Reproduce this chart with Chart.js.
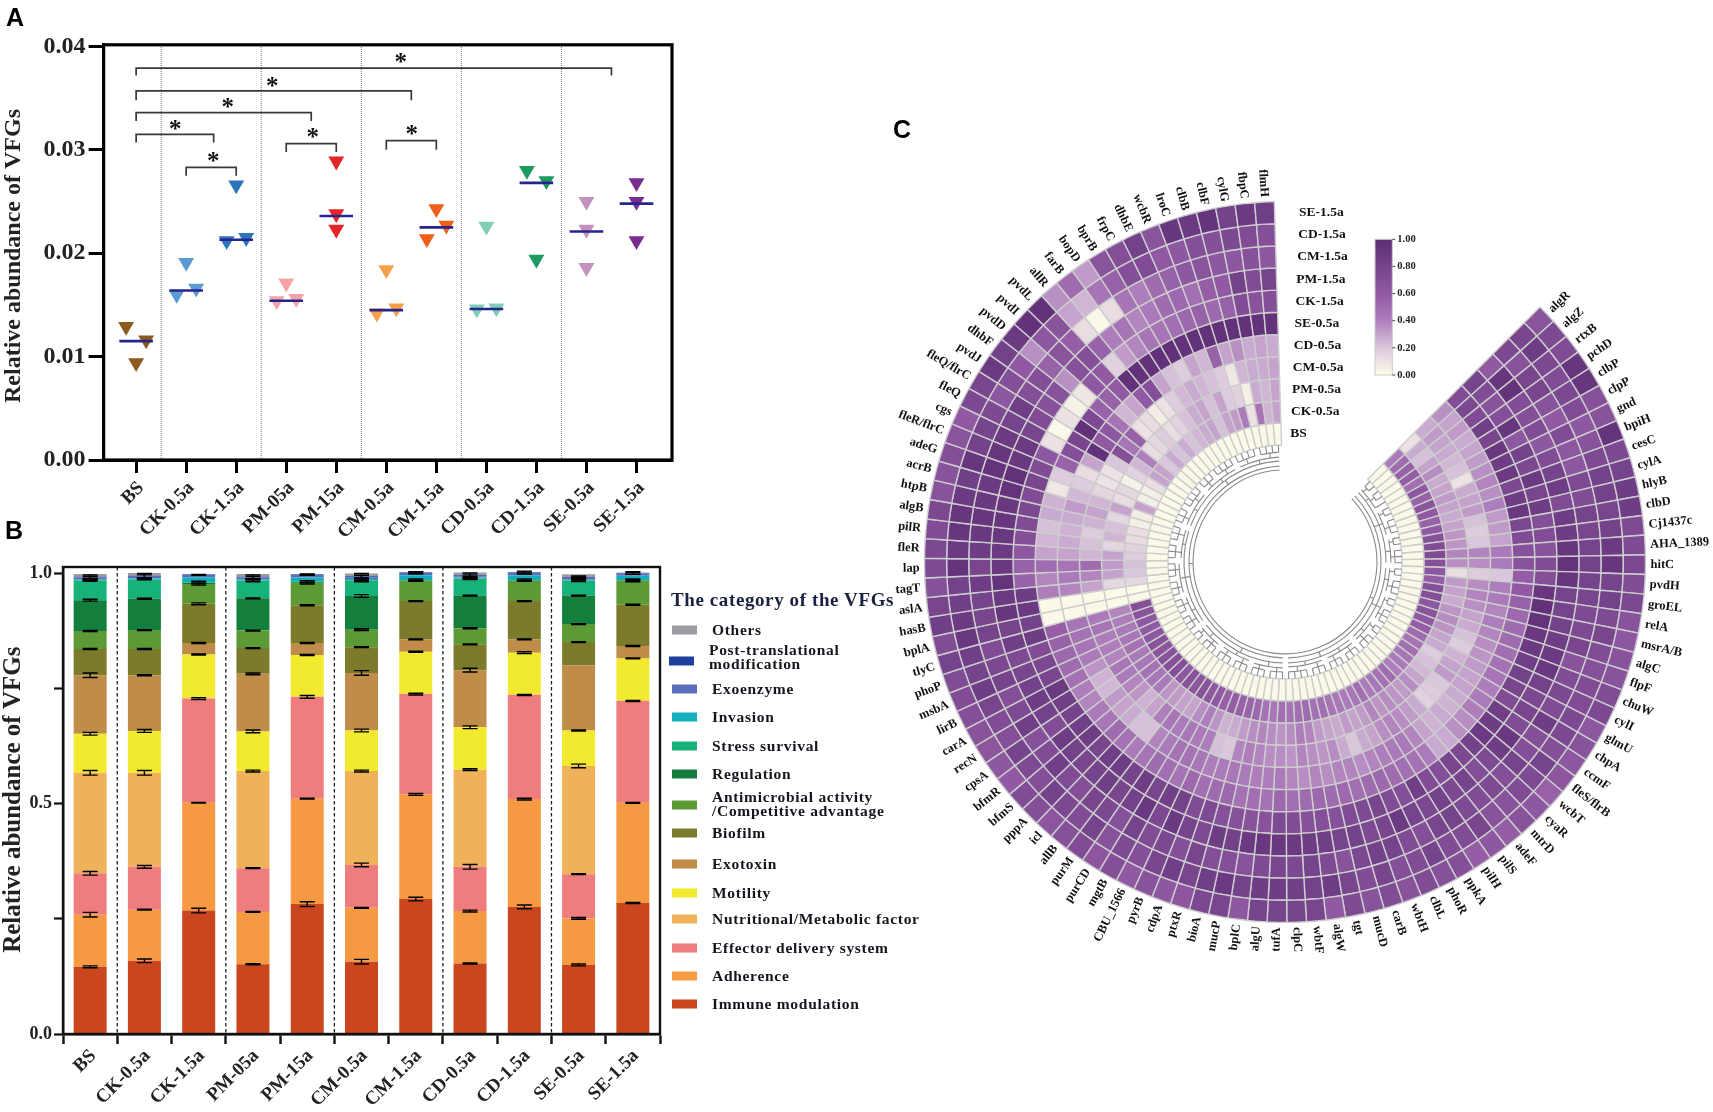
<!DOCTYPE html>
<html>
<head>
<meta charset="utf-8">
<title>VFGs</title>
<script src="https://cdn.jsdelivr.net/npm/chart.js@4"></script>
<style>
  html, body { margin: 0; padding: 0; background: #fff; }
  body { position: relative; width: 1713px; height: 1112px; overflow: hidden; }
  canvas { position: absolute; }
  .panel { position: absolute; font: bold 25px "Liberation Sans", sans-serif; color: #000; transform: translateY(-50%); }
  .lg-title { position: absolute; left: 671px; top: 600px; transform: translateY(-50%); font: bold 19px "Liberation Serif", serif; letter-spacing: .6px; color: #1b2140; white-space: nowrap; }
  .lg-swatch { position: absolute; width: 25px; height: 9px; transform: translateY(-50%); }
  .lg-text { position: absolute; transform: translateY(-50%); font: bold 15.5px/14.6px "Liberation Serif", serif; letter-spacing: .7px; color: #15151f; white-space: pre; }
</style>
</head>
<body>
<canvas id="chartA" width="700" height="545" style="left:0;top:0"></canvas>
<canvas id="chartB" width="670" height="567" style="left:0;top:545px"></canvas>
<canvas id="chartC" width="856" height="864" style="left:857px;top:130px"></canvas>
<div class="panel" style="left:6px;top:17px">A</div>
<div class="panel" style="left:5px;top:530px">B</div>
<div class="panel" style="left:893px;top:129px">C</div>
<div class="lg-title">The category of the VFGs</div>
<div id="legend"></div>
<script>
const SERIF = '"Liberation Serif", serif';

// panel A
const groupsA = ['BS', 'CK-0.5a', 'CK-1.5a', 'PM-05a', 'PM-15a', 'CM-0.5a', 'CM-1.5a', 'CD-0.5a', 'CD-1.5a', 'SE-0.5a', 'SE-1.5a'];
const replicates = [
  [0.0129, 0.0116, 0.0094], [0.0191, 0.0160, 0.0166], [0.0266, 0.0212, 0.0215],
  [0.0171, 0.0154, 0.0156], [0.0289, 0.0238, 0.0223], [0.0184, 0.0142, 0.0147],
  [0.0243, 0.0214, 0.0227], [0.0226, 0.0146, 0.0147], [0.0280, 0.0270, 0.0194],
  [0.0250, 0.0223, 0.0186], [0.0268, 0.0250, 0.0212]
];
const jitter = [
  [-0.2, 0.2, 0], [0, -0.19, 0.2], [0, -0.19, 0.2], [0, -0.19, 0.2], [0, 0, 0], [0, -0.19, 0.2],
  [0, -0.19, 0.2], [0, -0.19, 0.2], [-0.19, 0.2, 0], [0, 0, 0], [0, 0, 0]
];
const means = [0.0115, 0.0164, 0.0213, 0.0154, 0.0236, 0.0145, 0.0225, 0.0146, 0.0268, 0.0221, 0.0248];
const dotColors = ['#8c5a1e', '#5b9bd5', '#2a75bb', '#f4a3a8', '#e3262a', '#f6a04a', '#ef5f1a', '#7fcdb5', '#1f9a60', '#c391be', '#7a2d90'];
const separators = [0.5, 2.5, 4.5, 6.5, 8.5];
const bracketFrom = [0, 0, 0, 0, 1, 3, 5];
const bracketTo = [9.5, 5.5, 3.5, 1.55, 2, 4, 6];
const bracketTop = [0.0379, 0.0357, 0.0336, 0.0315, 0.0283, 0.0306, 0.0309];
const bracketEnd = [0.0372, 0.0348, 0.0328, 0.0307, 0.0275, 0.0298, 0.0300];
const starX = [5.29, 2.72, 1.83, 0.78, 1.54, 3.53, 5.51];
const starY = [0.0388, 0.0365, 0.0344, 0.0323, 0.0292, 0.0315, 0.0318];

// panel B
const groupsB = ['BS', 'CK-0.5a', 'CK-1.5a', 'PM-05a', 'PM-15a', 'CM-0.5a', 'CM-1.5a', 'CD-0.5a', 'CD-1.5a', 'SE-0.5a', 'SE-1.5a'];
const immune = [.146, .159, .268, .1515, .282, .157, .293, .153, .276, .150, .2845];
const adherence = [.113, .111, .234, .1135, .229, .117, .2275, .114, .234, .101, .2175];
const effector = [.090, .093, .226, .095, .221, .093, .2175, .096, .226, .096, .221];
const nutritional = [.218, .204, .002, .211, .001, .204, .001, .211, .001, .235, .001];
const motility = [.085, .091, .094, .086, .090, .088, .091, .092, .091, .077, .0915];
const exotoxin = [.127, .121, .025, .125, .026, .125, .027, .124, .029, .141, .027];
const biofilm = [.057, .057, .085, .056, .082, .056, .083, .056, .083, .051, .0895];
const antimicrobial = [.039, .041, .043, .038, .048, .038, .044, .035, .044, .039, .052];
const regulation = [.067, .068, .002, .070, .002, .073, .001, .071, .001, .062, .001];
const stress = [.043, .042, .002, .038, .001, .034, .001, .037, .001, .0325, .001];
const invasion = [.002, .002, .011, .003, .009, .003, .010, .002, .010, .002, .009];
const exoenzyme = [.004, .004, .005, .004, .006, .004, .005, .003, .005, .004, .005];
const postTrans = [.002, .002, .001, .002, .001, .002, .001, .002, .001, .002, .001];
const others = [.006, .006, .001, .006, .001, .006, .001, .006, .001, .006, .001];

const errImmune = [.002, .004, .005, .001, .005, .005, .004, .001, .004, .002, .001];
const errAdherence = [.005, .001, .0005, .001, .001, .001, .002, .002, .002, .002, .001];
const errEffector = [.004, .003, .002, .001, .003, .004, .002, .005, .001, .001, .001];
const errNutritional = [.005, .005, 0, .002, 0, .002, 0, .002, 0, .004, 0];
const errMotility = [.003, .003, .001, .003, .001, .003, .001, .003, .002, .001, .001];
const errExotoxin = [.005, .001, .001, .002, .001, .005, .001, .004, .001, 0, .001];
const errBiofilm = [.001, .001, .002, .001, .001, .001, .001, .001, .001, .001, .001];
const errAntimicrobial = [.001, .001, .002, .001, .002, .002, .001, .001, .001, .001, .002];
const errRegulation = [.002, .001, 0, .001, 0, .003, 0, .001, 0, .001, 0];
const errStress = [.002, .001, .002, .002, .002, .003, .002, .002, .002, .002, .002];
const errInvasion = [.002, .001, 0, .001, 0, .003, 0, .002, 0, .001, 0];
const errExoenzyme = [.003, .004, .001, .003, .001, .004, .002, .003, .002, .002, .002];
const errPostTrans = [.004, .005, 0, .004, .001, .006, .002, .005, .003, .002, .003];
const errOthers = [0, 0, 0, 0, 0, 0, 0, 0, 0, 0, 0];

const catLabels = ['Immune modulation', 'Adherence', 'Effector delivery system', 'Nutritional/Metabolic factor', 'Motility', 'Exotoxin', 'Biofilm', 'Antimicrobial activity\n/Competitive advantage', 'Regulation', 'Stress survival', 'Invasion', 'Exoenzyme', 'Post-translational\nmodification', 'Others'];
const catColors = ['#c9461f', '#f59a42', '#ef7d7e', '#efb25a', '#f2ea2e', '#bf8c49', '#7b7b2b', '#5b9a34', '#147f3c', '#17b279', '#14aebd', '#5c6dbb', '#1f3f9e', '#9b9ba3'];
const catValues = [immune, adherence, effector, nutritional, motility, exotoxin, biofilm, antimicrobial, regulation, stress, invasion, exoenzyme, postTrans, others];
const catErrors = [errImmune, errAdherence, errEffector, errNutritional, errMotility, errExotoxin, errBiofilm, errAntimicrobial, errRegulation, errStress, errInvasion, errExoenzyme, errPostTrans, errOthers];

// panel C, genes run clockwise from the top right
const genes = ['algR', 'algZ', 'rtxB', 'pchD', 'clbP', 'clpP', 'gnd', 'bpiH', 'cesC', 'cylA',
  'hlyB', 'clbD', 'Cj1437c', 'AHA_1389', 'hitC', 'pvdH', 'groEL', 'relA', 'msrA/B', 'algC',
  'flpF', 'chuW', 'cylI', 'glmU', 'chpA', 'ccmF', 'fleS/flrB', 'wcbT', 'cyaR', 'mtrD',
  'adeF', 'pilS', 'pilH', 'ppkA', 'phoR', 'clbL', 'wbtH', 'carB', 'mucD', 'tgt',
  'algW', 'wbtF', 'clpC', 'tufA', 'algU', 'bplC', 'mucP', 'bioA', 'ptxR', 'cdpA',
  'pyrB', 'CBU_1566', 'mgtB', 'purCD', 'purM', 'allB', 'icl', 'pppA', 'bfmS', 'bfmR',
  'cpsA', 'recN', 'carA', 'lirB', 'msbA', 'phoP', 'tlyC', 'bplA', 'hasB', 'aslA',
  'tagT', 'lap', 'fleR', 'pilR', 'algB', 'htpB', 'acrB', 'adeG', 'fleR/flrC', 'cgs',
  'fleQ', 'fleQ/flrC', 'pvdJ', 'dhbF', 'pvdD', 'pvdI', 'pvdL', 'allR', 'farB', 'bopD',
  'bprB', 'frpC', 'dhbE', 'wcbR', 'lroC', 'clbB', 'clbF', 'cylG', 'fbpC', 'flmH'];
const ringNames = ['SE-1.5a', 'CD-1.5a', 'CM-1.5a', 'PM-1.5a', 'CK-1.5a', 'SE-0.5a', 'CD-0.5a', 'CM-0.5a', 'PM-0.5a', 'CK-0.5a', 'BS'];

const se15 = [.65,.75,.72,.92,.92,.68,.66,.93,.76,.80,
  .86,.86,.74,.74,.76,.72,.76,.66,.62,.66,
  .66,.72,.76,.62,.66,.62,.64,.56,.62,.66,
  .58,.62,.58,.70,.68,.72,.66,.72,.66,.74,
  .60,.78,.80,.80,.80,.62,.78,.76,.64,.62,
  .66,.60,.70,.64,.72,.68,.64,.70,.72,.60,
  .62,.64,.66,.70,.72,.72,.80,.72,.84,.78,
  .68,.74,.76,.72,.76,.66,.66,.70,.65,.60,
  .75,.78,.88,.82,.88,.95,.95,.35,.50,.32,
  .65,.70,.82,.65,.92,.88,.93,.82,.88,.85];
const cd15 = [.78,.86,.76,.72,.76,.72,.62,.66,.74,.82,
  .82,.78,.82,.88,.92,.80,.82,.74,.78,.72,
  .68,.72,.72,.75,.76,.70,.80,.74,.72,.66,
  .66,.78,.72,.72,.80,.72,.70,.78,.72,.78,
  .86,.82,.84,.86,.86,.82,.88,.85,.78,.84,
  .78,.70,.74,.66,.80,.72,.76,.82,.70,.74,
  .80,.70,.72,.78,.86,.80,.84,.90,.88,.84,
  .82,.94,.88,.92,.92,.88,.84,.92,.82,.80,
  .75,.62,.70,.60,.35,.62,.65,.30,.25,.45,
  .55,.70,.72,.60,.62,.70,.70,.75,.72,.70];
const cm15 = [.76,.66,.78,.78,.66,.60,.72,.62,.62,.74,
  .72,.80,.78,.80,.82,.80,.78,.74,.74,.78,
  .66,.72,.76,.72,.86,.70,.70,.80,.70,.74,
  .72,.74,.80,.78,.70,.72,.80,.82,.76,.66,
  .74,.80,.76,.78,.74,.66,.70,.70,.78,.70,
  .76,.72,.80,.68,.76,.78,.70,.72,.84,.72,
  .68,.84,.74,.70,.80,.76,.72,.80,.78,.80,
  .86,.78,.86,.90,.92,.90,.88,.94,.92,.88,
  .80,.85,.70,.70,.55,.65,.58,.12,.02,.12,
  .45,.40,.50,.55,.62,.65,.62,.62,.68,.62];
const pm15 = [.60,.92,.94,.72,.70,.72,.62,.72,.80,.86,
  .72,.86,.86,.92,.94,.92,.80,.80,.82,.86,
  .88,.90,.82,.76,.78,.72,.90,.86,.74,.70,
  .80,.76,.82,.76,.80,.88,.78,.74,.82,.80,
  .84,.86,.88,.90,.90,.88,.82,.86,.74,.80,
  .88,.76,.90,.82,.78,.84,.80,.78,.82,.86,
  .72,.82,.86,.82,.78,.74,.84,.80,.92,.88,
  .94,.90,.88,.90,.92,.90,.94,.96,.90,.88,
  .78,.72,.68,.66,.35,.68,.70,.55,.40,.45,
  .38,.42,.50,.52,.48,.58,.60,.82,.72,.80];
const ck15 = [.80,.72,.66,.70,.92,.62,.82,.76,.88,.78,
  .86,.70,.72,.66,.72,.70,.92,.96,.94,.90,
  .88,.84,.82,.78,.72,.84,.86,.88,.82,.76,
  .78,.70,.72,.84,.70,.72,.78,.74,.72,.68,
  .70,.68,.72,.74,.66,.66,.68,.68,.74,.72,
  .82,.84,.78,.86,.80,.86,.84,.78,.86,.84,
  .80,.84,.88,.78,.76,.72,.86,.82,.88,.86,
  .55,.55,.62,.70,.72,.76,.72,.78,.72,.62,
  .10,.02,.10,.04,.08,.62,.60,.16,.32,.38,
  .45,.45,.48,.52,.55,.52,.55,.72,.66,.70];
const se05 = [.72,.76,.72,.84,.78,.90,.86,.88,.76,.86,
  .90,.76,.72,.68,.66,.58,.60,.55,.52,.50,
  .50,.48,.46,.45,.40,.42,.40,.36,.35,.28,
  .28,.42,.46,.48,.50,.52,.50,.48,.52,.50,
  .52,.50,.48,.52,.46,.48,.46,.52,.50,.48,
  .52,.46,.48,.50,.45,.42,.46,.50,.44,.42,
  .38,.40,.46,.50,.52,.55,.58,.02,.01,.40,
  .38,.50,.30,.25,.22,.28,.26,.08,.18,.55,
  .70,.78,.96,.75,.55,.55,.60,.95,.95,.95,
  .96,.96,.95,.95,.96,.96,.95,.95,.95,.95];
const cd05 = [.35,.30,.32,.28,.30,.32,.35,.38,.35,.40,
  .32,.32,.30,.42,.42,.20,.40,.42,.38,.40,
  .38,.36,.34,.32,.30,.30,.28,.26,.28,.26,
  .30,.38,.42,.42,.40,.38,.36,.38,.38,.36,
  .38,.36,.38,.42,.40,.40,.42,.44,.42,.40,
  .44,.46,.46,.42,.38,.22,.22,.28,.30,.32,
  .24,.26,.34,.42,.45,.46,.45,.02,.01,.38,
  .42,.45,.30,.28,.26,.28,.32,.24,.18,.12,
  .30,.96,.60,.62,.45,.25,.30,.60,.70,.30,
  .22,.18,.30,.25,.55,.30,.35,.28,.30,.28];
const cm05 = [.28,.32,.30,.28,.24,.22,.10,.28,.30,.32,
  .22,.18,.20,.38,.36,.18,.36,.38,.35,.30,
  .28,.22,.18,.26,.30,.32,.20,.18,.16,.28,
  .32,.36,.38,.36,.30,.28,.20,.28,.36,.34,
  .36,.38,.34,.36,.36,.38,.40,.38,.20,.22,
  .40,.42,.44,.42,.44,.40,.30,.26,.34,.38,
  .42,.44,.38,.40,.40,.45,.42,.02,.01,.30,
  .38,.50,.25,.22,.18,.26,.30,.25,.15,.10,
  .10,.20,.70,.45,.55,.10,.12,.06,.10,.18,
  .24,.28,.25,.22,.18,.08,.25,.28,.28,.30];
const pm05 = [.10,.28,.22,.30,.36,.28,.30,.32,.30,.28,
  .30,.34,.34,.38,.36,.12,.32,.30,.28,.34,
  .36,.34,.30,.28,.18,.22,.24,.30,.36,.32,
  .34,.36,.34,.38,.32,.30,.32,.28,.30,.32,
  .38,.40,.36,.34,.36,.38,.36,.32,.28,.26,
  .34,.40,.36,.30,.30,.32,.34,.42,.44,.46,
  .44,.42,.46,.44,.42,.40,.38,.02,.01,.14,
  .30,.32,.30,.14,.25,.22,.14,.30,.12,.14,
  .04,.16,.25,.40,.12,.14,.18,.12,.16,.22,
  .28,.30,.22,.30,.18,.16,.05,.28,.25,.30];
const ck05 = [.42,.50,.55,.58,.48,.62,.55,.65,.60,.55,
  .60,.68,.72,.72,.68,.62,.58,.68,.70,.62,
  .66,.60,.58,.50,.45,.48,.44,.42,.40,.50,
  .46,.44,.42,.48,.44,.42,.44,.45,.48,.46,
  .50,.48,.46,.48,.44,.46,.52,.54,.56,.58,
  .56,.60,.62,.66,.64,.66,.62,.70,.68,.66,
  .64,.66,.62,.60,.62,.66,.70,.02,.01,.14,
  .20,.22,.18,.16,.12,.12,.05,.06,.30,.05,
  .05,.12,.30,.30,.20,.28,.22,.28,.22,.25,
  .28,.30,.22,.30,.32,.42,.10,.45,.25,.30];
const bs = [.02,.01,.02,.01,.01,.02,.01,.01,.02,.01,
  .01,.02,.01,.01,.02,.01,.01,.01,.02,.01,
  .01,.01,.02,.01,.01,.01,.02,.01,.01,.02,
  .01,.01,.02,.01,.01,.02,.01,.01,.01,.02,
  .01,.02,.01,.01,.02,.01,.01,.02,.01,.01,
  .02,.01,.01,.01,.02,.01,.01,.02,.01,.01,
  .01,.02,.01,.01,.02,.01,.01,.01,.01,.01,
  .02,.01,.01,.02,.01,.01,.02,.01,.01,.02,
  .01,.01,.02,.01,.03,.02,.01,.02,.01,.02,
  .01,.02,.01,.02,.01,.01,.02,.01,.02,.01];
const rings = [se15, cd15, cm15, pm15, ck15, se05, cd05, cm05, pm05, ck05, bs];

const heatStops = [0, 0.2, 0.4, 0.6, 0.8, 1];
const heatColors = [[253, 253, 233], [219, 199, 221], [174, 126, 188], [145, 89, 163], [118, 68, 140], [93, 44, 116]];
const colorbarTicks = ['1.00', '0.80', '0.60', '0.40', '0.20', '0.00'];

// dendrogram: first gene, last gene, branch radius
const dendroClades = [[1, 100, 92], [1, 43, 96], [44, 100, 96],
  [1, 15, 101], [16, 30, 101], [31, 43, 101], [44, 60, 101], [61, 78, 101], [79, 100, 101],
  [1, 5, 105], [6, 10, 105], [11, 15, 106], [16, 20, 105], [21, 25, 106], [26, 30, 105], [31, 36, 105], [37, 43, 105],
  [44, 49, 106], [50, 55, 105], [56, 60, 106], [61, 66, 105], [67, 72, 106], [73, 78, 104], [79, 85, 105], [86, 92, 105], [93, 100, 105],
  [1, 2, 110], [3, 4, 110], [6, 7, 110], [8, 10, 110], [11, 12, 110], [13, 15, 110], [16, 17, 110], [18, 20, 110], [21, 22, 110], [23, 25, 110],
  [26, 27, 110], [28, 30, 110], [31, 33, 110], [34, 36, 110], [37, 39, 110], [40, 43, 110], [44, 46, 110], [47, 49, 110], [50, 52, 110], [53, 55, 110],
  [56, 58, 110], [59, 60, 110], [61, 63, 110], [64, 66, 110], [67, 69, 110], [70, 72, 110], [73, 75, 110], [76, 78, 110], [79, 81, 110], [82, 85, 110],
  [86, 88, 110], [89, 92, 110], [93, 96, 110], [97, 100, 110]];

Chart.defaults.animation = false;
Chart.defaults.responsive = false;
Chart.defaults.devicePixelRatio = 1;

const framePlugin = {
  id: 'frame',
  afterDraw(chart, args, opts) {
    const { ctx, chartArea: a } = chart;
    ctx.save();
    ctx.strokeStyle = opts.color || '#000';
    ctx.lineWidth = opts.width || 3;
    ctx.strokeRect(a.left, a.top, a.right - a.left, a.bottom - a.top);
    ctx.fillStyle = '#222';
    ctx.font = 'bold ' + opts.titleSize + 'px ' + SERIF;
    ctx.textAlign = 'center';
    ctx.textBaseline = 'middle';
    ctx.translate(13.5, opts.titleY);
    ctx.rotate(-Math.PI / 2);
    ctx.fillText('Relative abundance of VFGs', 0, 0);
    ctx.restore();
  }
};

function tickFont(size) {
  return { family: SERIF, size, weight: 'bold' };
}

function createChartA() {
  const yMax = 0.04016;
  const dotSets = groupsA.map((g, i) => ({
    label: g,
    data: replicates[i].map((v, j) => ({ x: i + jitter[i][j], y: v })),
    pointStyle: 'triangle',
    rotation: 180,
    radius: 9.2,
    backgroundColor: dotColors[i],
    borderWidth: 0
  }));
  const meanSet = {
    label: 'mean',
    data: means.map((v, i) => ({ x: i, y: v })),
    pointStyle: 'line',
    radius: 16.8,
    borderColor: '#26248f',
    borderWidth: 2.6
  };
  const sepSets = separators.map(x => ({
    data: [{ x, y: 0 }, { x, y: yMax }],
    showLine: true,
    pointRadius: 0,
    borderColor: '#777',
    borderWidth: 1,
    borderDash: [1, 1]
  }));
  const bracketSets = bracketFrom.map((from, i) => ({
    data: [
      { x: from, y: bracketEnd[i] },
      { x: from, y: bracketTop[i] },
      { x: bracketTo[i], y: bracketTop[i] },
      { x: bracketTo[i], y: bracketEnd[i] }
    ],
    showLine: true,
    pointRadius: 0,
    borderColor: '#3a3a3a',
    borderWidth: 1.7
  }));
  const starPlugin = {
    id: 'stars',
    afterDatasetsDraw(chart) {
      const { ctx, scales } = chart;
      ctx.save();
      ctx.fillStyle = '#111';
      ctx.font = 'bold 25px ' + SERIF;
      ctx.textAlign = 'center';
      ctx.textBaseline = 'alphabetic';
      starX.forEach((x, i) => {
        ctx.fillText('*', scales.x.getPixelForValue(x), scales.y.getPixelForValue(starY[i]) + 11);
      });
      ctx.restore();
    }
  };
  return new Chart(document.getElementById('chartA'), {
    type: 'scatter',
    data: { datasets: [meanSet, ...bracketSets, ...dotSets, ...sepSets] },
    plugins: [framePlugin, starPlugin],
    options: {
      layout: { padding: { top: 44.8, right: 28, left: 0, bottom: 0 } },
      plugins: { legend: { display: false }, tooltip: { enabled: false }, frame: { width: 3.2, titleSize: 24, titleY: 256 } },
      scales: {
        x: {
          type: 'linear',
          min: -0.65,
          max: 10.71,
          afterFit(axis) { axis.height = 85; },
          border: { color: '#000', width: 3 },
          grid: { drawOnChartArea: false, tickLength: 13, tickWidth: 3, tickColor: '#000' },
          ticks: {
            stepSize: 1,
            includeBounds: false,
            autoSkip: false,
            minRotation: 45,
            maxRotation: 45,
            padding: 4,
            labelOffset: 5,
            color: '#222',
            font: tickFont(19),
            callback: v => groupsA[v]
          }
        },
        y: {
          min: 0,
          max: yMax,
          afterFit(axis) { axis.width = 103.6; },
          border: { color: '#000', width: 3 },
          grid: { drawOnChartArea: false, tickLength: 15, tickWidth: 3, tickColor: '#000' },
          ticks: {
            stepSize: 0.01,
            includeBounds: false,
            padding: 3,
            color: '#222',
            font: tickFont(24),
            callback: v => v.toFixed(2)
          }
        }
      }
    }
  });
}

function createChartB() {
  const errorPlugin = {
    id: 'errors',
    afterDatasetsDraw(chart) {
      const { ctx, scales } = chart;
      ctx.save();
      ctx.strokeStyle = '#000';
      ctx.lineWidth = 1.4;
      groupsB.forEach((g, j) => {
        let top = 0;
        catValues.forEach((vals, s) => {
          top += vals[j];
          const err = catErrors[s][j];
          if (!err) return;
          const x = scales.x.getPixelForValue(j);
          const y1 = scales.y.getPixelForValue(top + err);
          const y2 = scales.y.getPixelForValue(top - err);
          ctx.beginPath();
          ctx.moveTo(x - 7.5, y1); ctx.lineTo(x + 7.5, y1);
          ctx.moveTo(x - 7.5, y2); ctx.lineTo(x + 7.5, y2);
          ctx.moveTo(x, y1); ctx.lineTo(x, y2);
          ctx.stroke();
        });
      });
      // dashed dividers between the treatment pairs
      ctx.setLineDash([3.5, 2.5]);
      ctx.lineWidth = 1.3;
      ctx.strokeStyle = '#222';
      separators.forEach(sep => {
        const x = (scales.x.getPixelForValue(Math.floor(sep)) + scales.x.getPixelForValue(Math.ceil(sep))) / 2;
        ctx.beginPath();
        ctx.moveTo(x, chart.chartArea.top);
        ctx.lineTo(x, chart.chartArea.bottom);
        ctx.stroke();
      });
      ctx.restore();
    }
  };
  return new Chart(document.getElementById('chartB'), {
    type: 'bar',
    data: {
      labels: groupsB,
      datasets: catLabels.map((c, i) => ({
        label: c,
        data: catValues[i],
        backgroundColor: catColors[i],
        barPercentage: 0.608,
        categoryPercentage: 1
      }))
    },
    plugins: [framePlugin, errorPlugin],
    options: {
      layout: { padding: { top: 22, right: 10, left: 0, bottom: 0 } },
      plugins: { legend: { display: false }, tooltip: { enabled: false }, frame: { width: 2.4, color: '#111', titleSize: 25, titleY: 254.7 } },
      scales: {
        x: {
          stacked: true,
          afterFit(axis) { axis.height = 78; },
          border: { color: '#111', width: 2.4 },
          grid: { drawOnChartArea: false, tickLength: 10, tickWidth: 2.4, tickColor: '#111' },
          ticks: { autoSkip: false, minRotation: 45, maxRotation: 45, padding: 1, labelOffset: 3, color: '#222', font: tickFont(19) }
        },
        y: {
          stacked: true,
          min: 0,
          max: 1.014,
          afterFit(axis) { axis.width = 63; },
          border: { color: '#111', width: 2.4 },
          grid: { drawOnChartArea: false, tickLength: 9, tickWidth: 2.2, tickColor: '#111' },
          ticks: {
            stepSize: 0.25,
            includeBounds: false,
            autoSkip: false,
            padding: 2,
            color: '#222',
            font: tickFont(18),
            callback: v => (v * 2) % 1 === 0 ? v.toFixed(1) : ''
          }
        }
      }
    }
  });
}

function heatColor(v) {
  let i = 0;
  while (i < heatStops.length - 2 && v > heatStops[i + 1]) i++;
  const t = (v - heatStops[i]) / (heatStops[i + 1] - heatStops[i]);
  const c = heatColors[i].map((a, n) => Math.round(a + (heatColors[i + 1][n] - a) * t));
  return `rgb(${c[0]},${c[1]},${c[2]})`;
}

function createChartC() {
  const ringPlugin = {
    id: 'ringLabels',
    afterDraw(chart) {
      const { ctx } = chart;
      const arcs = chart.getDatasetMeta(0).data;
      const { x: cx, y: cy, outerRadius: R } = arcs[0];
      const middle = i => (arcs[i].startAngle + arcs[i].endAngle) / 2;

      // gene names round the outside
      ctx.save();
      ctx.fillStyle = '#111';
      ctx.font = 'bold 12.5px ' + SERIF;
      ctx.textBaseline = 'middle';
      genes.forEach((g, i) => {
        const a = middle(i);
        ctx.save();
        ctx.translate(cx, cy);
        if (Math.cos(a) >= 0) {
          ctx.rotate(a);
          ctx.textAlign = 'left';
          ctx.fillText(g, R + 5, 0);
        } else {
          ctx.rotate(a + Math.PI);
          ctx.textAlign = 'right';
          ctx.fillText(g, -R - 5, 0);
        }
        ctx.restore();
      });
      ctx.restore();

      // sample names next to the open edge
      ctx.save();
      ctx.fillStyle = '#111';
      ctx.font = 'bold 13.5px ' + SERIF;
      ctx.textAlign = 'left';
      ctx.textBaseline = 'middle';
      const labelAngle = arcs[arcs.length - 1].endAngle + 4 * Math.PI / 180;
      ringNames.forEach((name, i) => {
        const arc = chart.getDatasetMeta(i).data[0];
        const r = (arc.innerRadius + arc.outerRadius) / 2;
        ctx.fillText(name, cx + r * Math.cos(labelAngle), cy + r * Math.sin(labelAngle));
      });
      ctx.restore();

      // dendrogram
      const inner = chart.getDatasetMeta(ringNames.length - 1).data[0].innerRadius;
      const contains = (c, k) => c[0] <= k && k <= c[1];
      ctx.save();
      ctx.strokeStyle = '#8a8a8a';
      ctx.lineWidth = 1.1;
      const radial = (a, r1, r2) => {
        ctx.beginPath();
        ctx.moveTo(cx + r1 * Math.cos(a), cy + r1 * Math.sin(a));
        ctx.lineTo(cx + r2 * Math.cos(a), cy + r2 * Math.sin(a));
        ctx.stroke();
      };
      dendroClades.forEach(c => {
        const a1 = middle(c[0] - 1);
        const a2 = middle(c[1] - 1);
        ctx.beginPath();
        ctx.arc(cx, cy, c[2], a1, a2);
        ctx.stroke();
        const parents = dendroClades.filter(p => p[2] < c[2] && contains(p, c[0]) && contains(p, c[1]));
        if (parents.length) {
          const parentR = Math.max(...parents.map(p => p[2]));
          radial((a1 + a2) / 2, c[2], parentR);
        }
      });
      genes.forEach((g, i) => {
        const holders = dendroClades.filter(c => contains(c, i + 1));
        radial(middle(i), inner, Math.max(...holders.map(c => c[2])));
      });
      ctx.restore();

      // colour bar
      const barX = 518, barY = 109.3, barW = 17.3, barH = 135.7;
      const grad = ctx.createLinearGradient(0, barY + barH, 0, barY);
      heatStops.forEach(s => grad.addColorStop(s, heatColor(s)));
      ctx.save();
      ctx.fillStyle = grad;
      ctx.fillRect(barX, barY, barW, barH);
      ctx.strokeStyle = '#ccc';
      ctx.lineWidth = 1;
      ctx.strokeRect(barX, barY, barW, barH);
      ctx.strokeStyle = '#444';
      ctx.fillStyle = '#222';
      ctx.font = 'bold 10.5px ' + SERIF;
      ctx.textBaseline = 'middle';
      colorbarTicks.forEach((t, i) => {
        const y = barY + barH * i / (colorbarTicks.length - 1);
        ctx.beginPath();
        ctx.moveTo(barX + barW, y);
        ctx.lineTo(barX + barW + 3, y);
        ctx.stroke();
        ctx.fillText(t, barX + barW + 5, y);
      });
      ctx.restore();
    }
  };
  return new Chart(document.getElementById('chartC'), {
    type: 'doughnut',
    data: {
      labels: genes,
      datasets: ringNames.map((name, i) => ({
        label: name,
        data: genes.map(() => 1),
        backgroundColor: rings[i].map(heatColor),
        borderColor: '#cdcdcd',
        borderWidth: 1.4
      }))
    },
    plugins: [ringPlugin],
    options: {
      rotation: 45,
      circumference: 313.3,
      cutout: 117,
      layout: { padding: { left: 66.8, right: 66.8, top: 70.8, bottom: 70.8 } },
      plugins: { legend: { display: false }, tooltip: { enabled: false } }
    }
  });
}

function buildLegend() {
  // rows top to bottom, matching catLabels reversed
  const rowY = [630, 660.7, 688.7, 717.3, 746, 774, 804.5, 833.3, 864, 893.3, 918.5, 948.3, 976, 1004];
  const box = document.getElementById('legend');
  [...catLabels].reverse().forEach((label, i) => {
    const wide = label.startsWith('Post');
    const sw = document.createElement('div');
    sw.className = 'lg-swatch';
    sw.style.left = (wide ? 669 : 672) + 'px';
    sw.style.top = rowY[i] + 'px';
    sw.style.background = catColors[catLabels.length - 1 - i];
    box.appendChild(sw);
    const txt = document.createElement('div');
    txt.className = 'lg-text';
    txt.style.left = (wide ? 709 : 712) + 'px';
    txt.style.top = rowY[i] - (wide ? 3 : 0) + 'px';
    txt.textContent = label;
    box.appendChild(txt);
  });
}

window.onload = () => {
  createChartA();
  createChartB();
  createChartC();
  buildLegend();
};
</script>
</body>
</html>
